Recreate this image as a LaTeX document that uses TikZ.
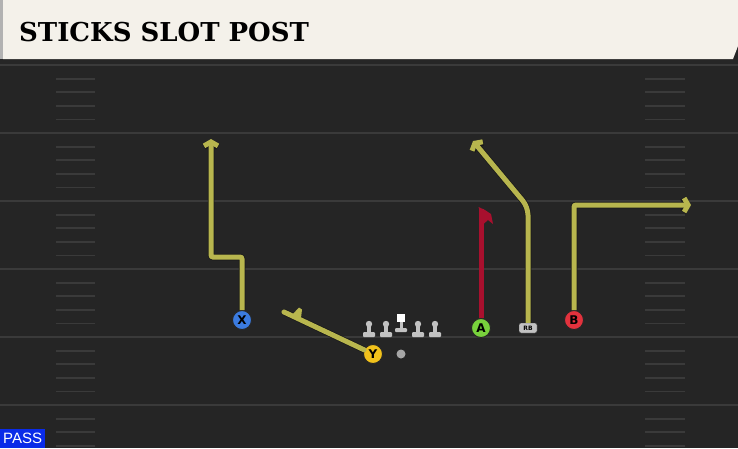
\documentclass[tikz,border=0pt]{standalone}
\usepackage{fontspec}
\setmainfont{DejaVu Sans}
\newfontfamily\titlefont{DejaVu Serif}
\newfontfamily\passfont{Liberation Sans}
\usetikzlibrary{arrows.meta}

\definecolor{field}{HTML}{252525}
\definecolor{yardline}{HTML}{3A3A3A}
\definecolor{header}{HTML}{F4F1EA}
\definecolor{routeyellow}{HTML}{B8B64E}
\definecolor{block}{HTML}{A8102E}
\definecolor{xblue}{HTML}{3B7BE0}
\definecolor{yyellow}{HTML}{F2C21B}
\definecolor{agreen}{HTML}{78D23C}
\definecolor{bred}{HTML}{E2323D}
\definecolor{passblue}{HTML}{0A2BE8}
\definecolor{olgray}{HTML}{C2C2C2}

\tikzset{
  player/.style={circle, draw=black!85, line width=0.9pt, inner sep=0pt,
    minimum size=19pt, font=\bfseries\fontsize{12}{12}\selectfont},
  route/.style={draw=routeyellow, line width=5pt, rounded corners=2pt,
    preaction={draw=black!90, line width=6.5pt}},
  tip/.style={-{Straight Barb[length=4pt,width=14pt]}},
  lineman/.pic={
    \fill[olgray, rounded corners=1pt] (-6,-5) rectangle (6,0);
    \fill[olgray] (-2,-13) rectangle (2,-5);
    \fill[olgray] (0,-13) circle (3.2);
  },
  centerman/.pic={
    \fill[olgray, rounded corners=1pt] (-6,-4) rectangle (6,0);
    \fill[olgray] (-1.5,-10) rectangle (1.5,-4);
    \fill[white] (-4,-18) rectangle (4,-10);
  }
}

\begin{document}
\begin{tikzpicture}[x=1pt, y=-1pt]
  \useasboundingbox (0,0) rectangle (738,448);
  % field
  \fill[field] (0,0) rectangle (738,448);
  \foreach \n in {0,...,5} {
    \draw[yardline, line width=2pt] (0,65+68*\n) -- (738,65+68*\n);
    \foreach \j in {1,...,4} {
      \draw[yardline, line width=1.8pt] (56,65+68*\n+13.6*\j) -- (95,65+68*\n+13.6*\j);
      \draw[yardline, line width=1.8pt] (645,65+68*\n+13.6*\j) -- (685,65+68*\n+13.6*\j);
    }
  }

  % header
  \fill[black!85] (0,58) rectangle (738,64);
  \fill[gray!60] (0,0) rectangle (4,59);
  \fill[header] (3,0) -- (738,0) -- (738,46) -- (733,59) -- (3,59) -- cycle;
  \node[anchor=west, inner sep=0pt, font=\titlefont\bfseries\fontsize{26}{26}\selectfont]
    (title) at (19,32) {STICKS SLOT POST};

  % line and backs
  \foreach \x in {369,386,418,435}
    \pic at (\x,337) {lineman};
  \pic at (401,332) {centerman};
  \node[circle, fill=gray!70, inner sep=0pt, minimum size=9pt] (QB) at (401,354) {};

  \node[player, fill=xblue] (X) at (242,320) {X};
  \node[player, fill=yyellow] (Y) at (373,354) {Y};
  \node[player, fill=agreen] (A) at (481,328) {A};
  \node[player, fill=bred] (B) at (574,320) {B};
  \node[draw=black!80, fill=olgray, rounded corners=2pt, inner sep=0pt,
    minimum width=18pt, minimum height=10pt, font=\bfseries\fontsize{6}{6}\selectfont]
    (RB) at (528,328) {RB};

  \coordinate (x1) at (242,257);
  \coordinate (x2) at (211,257);
  \coordinate (x3) at (211,139);
  \coordinate (y1) at (284,312);
  \coordinate (a1) at (481,209);
  \coordinate (r1) at (528,207);
  \coordinate (r2) at (473,141);
  \coordinate (b1) at (574,205);
  \coordinate (b2) at (691,205);

  % routes
  \draw[route, tip] (X) -- (x1) -- (x2) -- (x3);
  \draw[route, line cap=round] (Y) -- (y1);
  \fill[routeyellow] (292,315) -- (299,307.5) -- (302,309.5) -- (301,318) -- cycle;
  \draw[route, rounded corners=8pt, tip] (RB) -- (r1) -- (r2);
  \draw[route, tip] (B) -- (b1) -- (b2);
  \draw[block, line width=5pt] (A) -- (a1);
  \fill[block] (478.5,207) -- (485,210) -- (491,214) -- (493,224) -- (488,220) -- (483.5,224) -- cycle;

  % play type
  \node[fill=passblue, text=white, anchor=south west, inner sep=0pt,
    minimum width=45pt, minimum height=19pt, font=\passfont\fontsize{15}{15}\selectfont]
    (pass) at (0,448) {PASS};
\end{tikzpicture}
\end{document}
